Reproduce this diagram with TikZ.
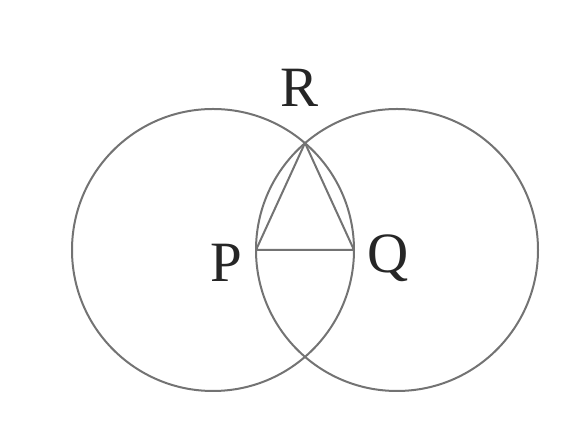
\documentclass[tikz,border=0pt]{standalone}
\usepackage{fontspec}
\setmainfont{Liberation Serif}
\usepackage{tikz}
\tikzstyle{circle_normal} = [draw=black!55, line width=1pt]
\tikzstyle{edge_normal} = [draw=black!55, line width=1pt]
\tikzstyle{label_normal} = [anchor=base, inner sep=0pt, text=black!85, font=\fontsize{28.5}{30}\selectfont]

\begin{document}
\begin{tikzpicture}[x=0.5pt,y=-0.5pt]
			\useasboundingbox (0,0) rectangle (579,431);
			\coordinate (O1) at (213,250);
			\coordinate (O2) at (397,250);
			\coordinate (P) at (256,250);
			\coordinate (Q) at (354,250);
			\coordinate (R) at (305,143);
			\draw[circle_normal] (O1) circle [radius=70.5pt];
			\draw[circle_normal] (O2) circle [radius=70.5pt];
			\draw[edge_normal] (R)--(P) (R)--(Q) (P)--(Q);
			\node (labelR) at (300,107) [label_normal] {R};
			\node (labelP) at (226,282) [label_normal] {P};
			\node (labelQ) at (388,273) [label_normal] {Q};
		\end{tikzpicture}
\end{document}
